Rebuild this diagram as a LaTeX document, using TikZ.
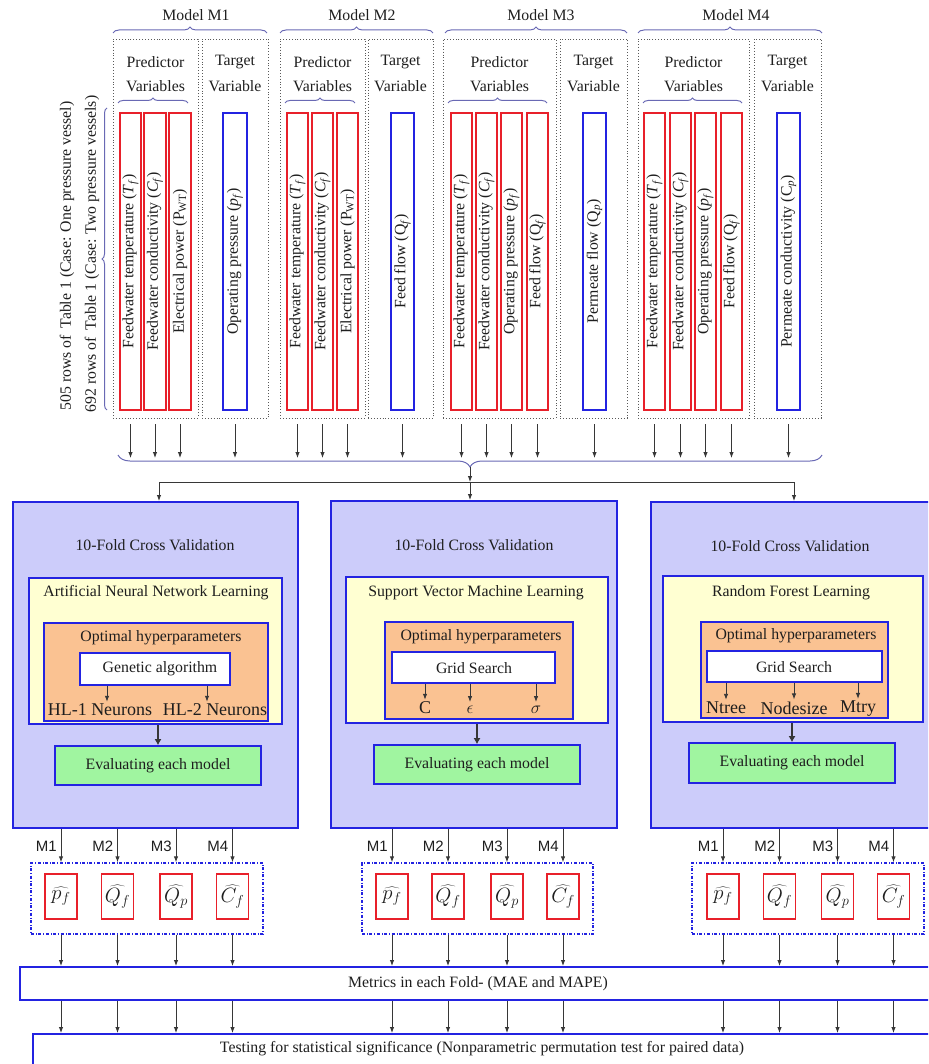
\documentclass[tikz,border=0pt]{standalone}
\usepackage{fontspec}
\setmainfont{Liberation Serif}
\newfontfamily\sansf{Liberation Sans}
\usetikzlibrary{arrows.meta,decorations.pathreplacing,calc}
\definecolor{bb}{RGB}{35,35,225}
\definecolor{lav}{RGB}{204,204,250}
\definecolor{yel}{RGB}{255,255,210}
\definecolor{ora}{RGB}{250,194,146}
\definecolor{grn}{RGB}{160,245,160}
\definecolor{rb}{RGB}{232,32,42}
\definecolor{brcol}{RGB}{105,105,180}
\definecolor{tc}{RGB}{30,30,30}
\definecolor{ac}{RGB}{55,55,55}
\newcommand\mybox[6]{\node[#6, minimum width={((#4)-(#2))*1pt}, minimum height={((#5)-(#3))*1pt}] (#1) at ({((#2)+(#4))/2},{((#3)+(#5))/2}) {};}
\newcommand\mysb[1]{\textsubscript{#1}}
\begin{document}
\begin{tikzpicture}[x=1pt,y=-1pt,
  txt/.style={font=\fontsize{15.8}{18}\selectfont, text=tc, inner sep=0pt},
  vtxt/.style={txt, rotate=90},
  big/.style={font=\fontsize{18}{20}\selectfont, text=tc, inner sep=0pt},
  mlab/.style={font=\sansf\fontsize{15}{17}\selectfont, text=tc, inner sep=0pt},
  hatlab/.style={font=\fontsize{20}{22}\selectfont, text=tc, inner sep=0pt},
  dotbox/.style={draw=black!65, dotted, line width=0.9pt, inner sep=0pt},
  redv/.style={draw=rb, line width=2pt, inner sep=0pt},
  bluev/.style={draw=bb, line width=2pt, inner sep=0pt},
  bigbox/.style={draw=bb, fill=lav, line width=2pt, inner sep=0pt},
  yelbox/.style={draw=bb, fill=yel, line width=1.6pt, inner sep=0pt},
  orabox/.style={draw=bb, fill=ora, line width=1.6pt, inner sep=0pt},
  whbox/.style={draw=bb, fill=white, line width=1.6pt, inner sep=0pt},
  grnbox/.style={draw=bb, fill=grn, line width=1.6pt, inner sep=0pt},
  ddbox/.style={draw=bb, dash dot, line width=1.4pt, inner sep=0pt},
  hatbox/.style={draw=rb, line width=1.5pt, inner sep=0pt},
  longbox/.style={draw=bb, fill=white, line width=2pt, inner sep=0pt},
  brc/.style={draw=brcol, line width=1pt, decorate, decoration={brace, amplitude=#1}},
  arr/.style={draw=ac, line width=0.9pt, -{Latex[length=6pt,width=4.5pt]}},
  plain/.style={draw=ac, line width=0.9pt},
  thickarr/.style={draw=ac, line width=2.6pt, -{Latex[length=6pt,width=7pt]}}
]
\useasboundingbox (0,0) rectangle (928,1064);
\clip (0,0) rectangle (928,1064);

% ---------------- Model headers
\node[txt] (tm1) at (196,15) {Model M1};
\node[txt] (tm2) at (362,15) {Model M2};
\node[txt] (tm3) at (541,15) {Model M3};
\node[txt] (tm4) at (736,15) {Model M4};
\draw[brc=6pt] (113,33) -- (267,33);
\draw[brc=6pt] (280,33) -- (433,33);
\draw[brc=6pt] (445,33) -- (627,33);
\draw[brc=6pt] (638,33) -- (822,33);

% dotted group boxes
\mybox{p1}{113}{39}{198}{418}{dotbox}
\mybox{g1t}{202}{39}{268}{418}{dotbox}
\mybox{p2}{280}{39}{365}{418}{dotbox}
\mybox{g2t}{368}{39}{433}{418}{dotbox}
\mybox{p3}{443}{39}{556}{418}{dotbox}
\mybox{g3t}{560}{39}{627}{418}{dotbox}
\mybox{p4}{638}{39}{749}{418}{dotbox}
\mybox{g4t}{754}{39}{821}{418}{dotbox}

\node[txt] (pr1) at (155.5,62) {Predictor};
\node[txt] (va1) at (155.5,86) {Variables};
\node[txt] (ta1) at (235,62) {Target};
\node[txt] (tv1) at (235,86) {Variable};
\node[txt] (pr2) at (322.5,62) {Predictor};
\node[txt] (va2) at (322.5,86) {Variables};
\node[txt] (ta2) at (400.5,62) {Target};
\node[txt] (tv2) at (400.5,86) {Variable};
\node[txt] (pr3) at (499.5,62) {Predictor};
\node[txt] (va3) at (499.5,86) {Variables};
\node[txt] (ta3) at (593.5,62) {Target};
\node[txt] (tv3) at (593.5,86) {Variable};
\node[txt] (pr4) at (693.5,62) {Predictor};
\node[txt] (va4) at (693.5,86) {Variables};
\node[txt] (ta4) at (787.5,62) {Target};
\node[txt] (tv4) at (787.5,86) {Variable};

\draw[brc=5pt] (118,103) -- (188,103);
\draw[brc=5pt] (285,103) -- (355,103);
\draw[brc=5pt] (448,103) -- (547,103);
\draw[brc=5pt] (643,103) -- (742,103);

% side text
\node[vtxt] (side1) at (67,256) {505 rows of\, Table 1 (Case: One pressure vessel)};
\node[vtxt] (side2) at (92,254) {692 rows of\, Table 1 (Case: Two pressure vessels)};
\draw[brc=5pt] (107,410) -- (107,108);

% variable boxes M1
\mybox{m1a}{120}{113}{141}{410}{redv}
\mybox{m1b}{144}{113}{166}{410}{redv}
\mybox{m1c}{169}{113}{191}{410}{redv}
\mybox{m1t}{223}{113}{247}{410}{bluev}
\node[vtxt] (m1at) at (m1a) {Feedwater temperature (\textit{T}\mysb{\textit{f}})};
\node[vtxt] (m1bt) at (m1b) {Feedwater conductivity (\textit{C}\mysb{\textit{f}})};
\node[vtxt] (m1ct) at (m1c) {Electrical power (P\mysb{WT})};
\node[vtxt] (m1tt) at (m1t) {Operating pressure (\textit{p}\mysb{\textit{f}})};
% M2
\mybox{m2a}{287}{113}{308}{410}{redv}
\mybox{m2b}{312}{113}{333}{410}{redv}
\mybox{m2c}{337}{113}{358}{410}{redv}
\mybox{m2t}{391}{113}{414}{410}{bluev}
\node[vtxt] (m2at) at (m2a) {Feedwater temperature (\textit{T}\mysb{\textit{f}})};
\node[vtxt] (m2bt) at (m2b) {Feedwater conductivity (\textit{C}\mysb{\textit{f}})};
\node[vtxt] (m2ct) at (m2c) {Electrical power (P\mysb{WT})};
\node[vtxt] (m2tt) at (m2t) {Feed flow (Q\mysb{\textit{f}})};
% M3
\mybox{m3a}{451}{113}{472}{410}{redv}
\mybox{m3b}{476}{113}{497}{410}{redv}
\mybox{m3c}{501}{113}{522}{410}{redv}
\mybox{m3d}{527}{113}{548}{410}{redv}
\mybox{m3t}{583}{113}{606}{410}{bluev}
\node[vtxt] (m3at) at (m3a) {Feedwater temperature (\textit{T}\mysb{\textit{f}})};
\node[vtxt] (m3bt) at (m3b) {Feedwater conductivity (\textit{C}\mysb{\textit{f}})};
\node[vtxt] (m3ct) at (m3c) {Operating pressure (\textit{p}\mysb{\textit{f}})};
\node[vtxt] (m3dt) at (m3d) {Feed flow (Q\mysb{\textit{f}})};
\node[vtxt] (m3tt) at (m3t) {Permeate flow (Q\mysb{\textit{p}})};
% M4
\mybox{m4a}{644}{113}{665}{410}{redv}
\mybox{m4b}{670}{113}{691}{410}{redv}
\mybox{m4c}{695}{113}{716}{410}{redv}
\mybox{m4d}{721}{113}{742}{410}{redv}
\mybox{m4t}{777}{113}{800}{410}{bluev}
\node[vtxt] (m4at) at (m4a) {Feedwater temperature (\textit{T}\mysb{\textit{f}})};
\node[vtxt] (m4bt) at (m4b) {Feedwater conductivity (\textit{C}\mysb{\textit{f}})};
\node[vtxt] (m4ct) at (m4c) {Operating pressure (\textit{p}\mysb{\textit{f}})};
\node[vtxt] (m4dt) at (m4d) {Feed flow (Q\mysb{\textit{f}})};
\node[vtxt] (m4tt) at (m4t) {Permeate conductivity (C\mysb{\textit{p}})};

% column arrows
\foreach \v in {m1a,m1b,m1c,m1t,m2a,m2b,m2c,m2t,m3a,m3b,m3c,m3d,m3t,m4a,m4b,m4c,m4d,m4t}
  \draw[arr] ($(\v.south)+(0,13)$) -- ($(\v.south)+(0,47)$);

% big brace
\draw[brc=12pt] (822,455) -- (118,455);
\coordinate (btip) at (470,467);
\coordinate (jl) at (159,482);
\coordinate (jr) at (794,482);
\coordinate (jm) at (470,482);

% ---------------- big boxes
\mybox{ann}{13}{502}{298}{828}{bigbox}
\mybox{svm}{331}{501}{617}{828}{bigbox}
\mybox{rf}{651}{502}{937}{828}{bigbox}

\draw[arr] (btip) -- (jm);
\draw[plain] (jl) -- (jr);
\draw[arr] (jm) -- (jm |- svm.north);
\draw[arr] (jl) -- (jl |- ann.north);
\draw[arr] (jr) -- (jr |- rf.north);

\node[txt] (cv1) at (155,545) {10-Fold Cross Validation};
\node[txt] (cv2) at (474,545) {10-Fold Cross Validation};
\node[txt] (cv3) at (790,546) {10-Fold Cross Validation};

\mybox{y1}{29}{578}{282}{724}{yelbox}
\mybox{y2}{346}{577}{608}{723}{yelbox}
\mybox{y3}{663}{576}{923}{722}{yelbox}
\node[txt] (yt1) at (156,593) {Artificial Neural Network Learning};
\node[txt] (yt2) at (476,593) {Support Vector Machine Learning};
\node[txt] (yt3) at (791,593) {Random Forest Learning};

\mybox{o1}{44}{623}{268}{721}{orabox}
\mybox{o2}{385}{622}{573}{719}{orabox}
\mybox{o3}{701}{622}{888}{718}{orabox}
\node[txt] (ot1) at (161,638) {Optimal hyperparameters};
\node[txt] (ot2) at (481,637) {Optimal hyperparameters};
\node[txt] (ot3) at (796,636) {Optimal hyperparameters};

\mybox{w1}{80}{653}{230}{685}{whbox}
\mybox{w2}{392}{652}{555}{683}{whbox}
\mybox{w3}{707}{651}{882}{682}{whbox}
\node[txt] (wt1) at (160,669) {Genetic algorithm};
\node[txt] (wt2) at (474,668) {Grid Search};
\node[txt] (wt3) at (794,667) {Grid Search};

% hyperparameter labels
\node[big] (hl1) at (100,710) {HL-1 Neurons};
\node[big] (hl2) at (215,710) {HL-2 Neurons};
\draw[arr] (w1.south -| 107,0) -- ($(hl1.north)+(7,-2)$);
\draw[arr] (w1.south -| 207,0) -- ($(hl2.north)+(-8,-2)$);

\node[big] (sc) at (425,708) {C};
\node[big] (se) at (470,710) {$\epsilon$};
\node[big] (ss) at (536,710) {$\sigma$};
\draw[arr] (w2.south -| sc.north) -- ($(sc.north)+(0,-2)$);
\draw[arr] (w2.south -| se.north) -- ($(se.north)+(0,-4)$);
\draw[arr] (w2.south -| ss.north) -- ($(ss.north)+(0,-4)$);

\node[big] (nt) at (726,708) {Ntree};
\node[big] (nn) at (794,708) {Nodesize};
\node[big] (nm) at (858,709) {Mtry};
\draw[arr] (w3.south -| nt.north) -- ($(nt.north)+(0,-2)$);
\draw[arr] (w3.south -| nn.north) -- ($(nn.north)+(0,-2)$);
\draw[arr] (w3.south -| nm.north) -- ($(nm.north)+(0,-2)$);

% green boxes
\mybox{g1}{55}{746}{261}{785}{grnbox}
\mybox{g2}{374}{745}{580}{784}{grnbox}
\mybox{g3}{689}{743}{895}{783}{grnbox}
\node[txt] (gt1) at (g1) {Evaluating each model};
\node[txt] (gt2) at (g2) {Evaluating each model};
\node[txt] (gt3) at (g3) {Evaluating each model};
\draw[thickarr] (y1.south -| g1.north) -- (g1.north);
\draw[thickarr] (y2.south -| g2.north) -- (g2.north);
\draw[thickarr] (y3.south -| g3.north) -- (g3.north);

% ---------------- bottom groups
\mybox{ddl}{31}{863}{263}{934}{ddbox}
\mybox{ddm}{362}{863}{593}{934}{ddbox}
\mybox{ddr}{692}{863}{924}{934}{ddbox}

\foreach \g/\src/\dd/\a/\b/\c/\d in {l/ann/ddl/61/117.5/176/232.5, m/svm/ddm/392/448/507/563, r/rf/ddr/723/779.5/837.5/893.5}{
  \mybox{h\g1}{\a-16}{874}{\a+16}{919}{hatbox}
  \mybox{h\g2}{\b-16}{874}{\b+16}{919}{hatbox}
  \mybox{h\g3}{\c-16}{874}{\c+16}{919}{hatbox}
  \mybox{h\g4}{\d-16}{874}{\d+16}{919}{hatbox}
  \node[hatlab] (hx\g1) at (h\g1) {$\widehat{p_f}$};
  \node[hatlab] (hx\g2) at (h\g2) {$\widehat{Q_f}$};
  \node[hatlab] (hx\g3) at (h\g3) {$\widehat{Q_p}$};
  \node[hatlab] (hx\g4) at (h\g4) {$\widehat{C_f}$};
  \foreach \k in {1,2,3,4}{
    \draw[arr] (\src.south -| h\g\k.north) -- (h\g\k.north |- \dd.north);
    \node[mlab, anchor=east] (ml\g\k) at ($(\src.south -| h\g\k.north)+(-4,17)$) {M\k};
  }
}

% metrics and testing
\mybox{met}{20}{967}{950}{1000}{longbox}
\mybox{tst}{33}{1034}{950}{1066}{longbox}
\node[txt] (mett) at (478,984) {Metrics in each Fold- (MAE and MAPE)};
\node[txt] (tstt) at (482,1049) {Testing for statistical significance (Nonparametric permutation test for paired data)};

\foreach \g/\dd in {l/ddl,m/ddm,r/ddr}{
  \foreach \k in {1,2,3,4}{
    \draw[arr] (\dd.south -| h\g\k.south) -- (met.north -| h\g\k.south);
    \draw[arr] (met.south -| h\g\k.south) -- (tst.north -| h\g\k.south);
  }
}
\end{tikzpicture}
\end{document}
